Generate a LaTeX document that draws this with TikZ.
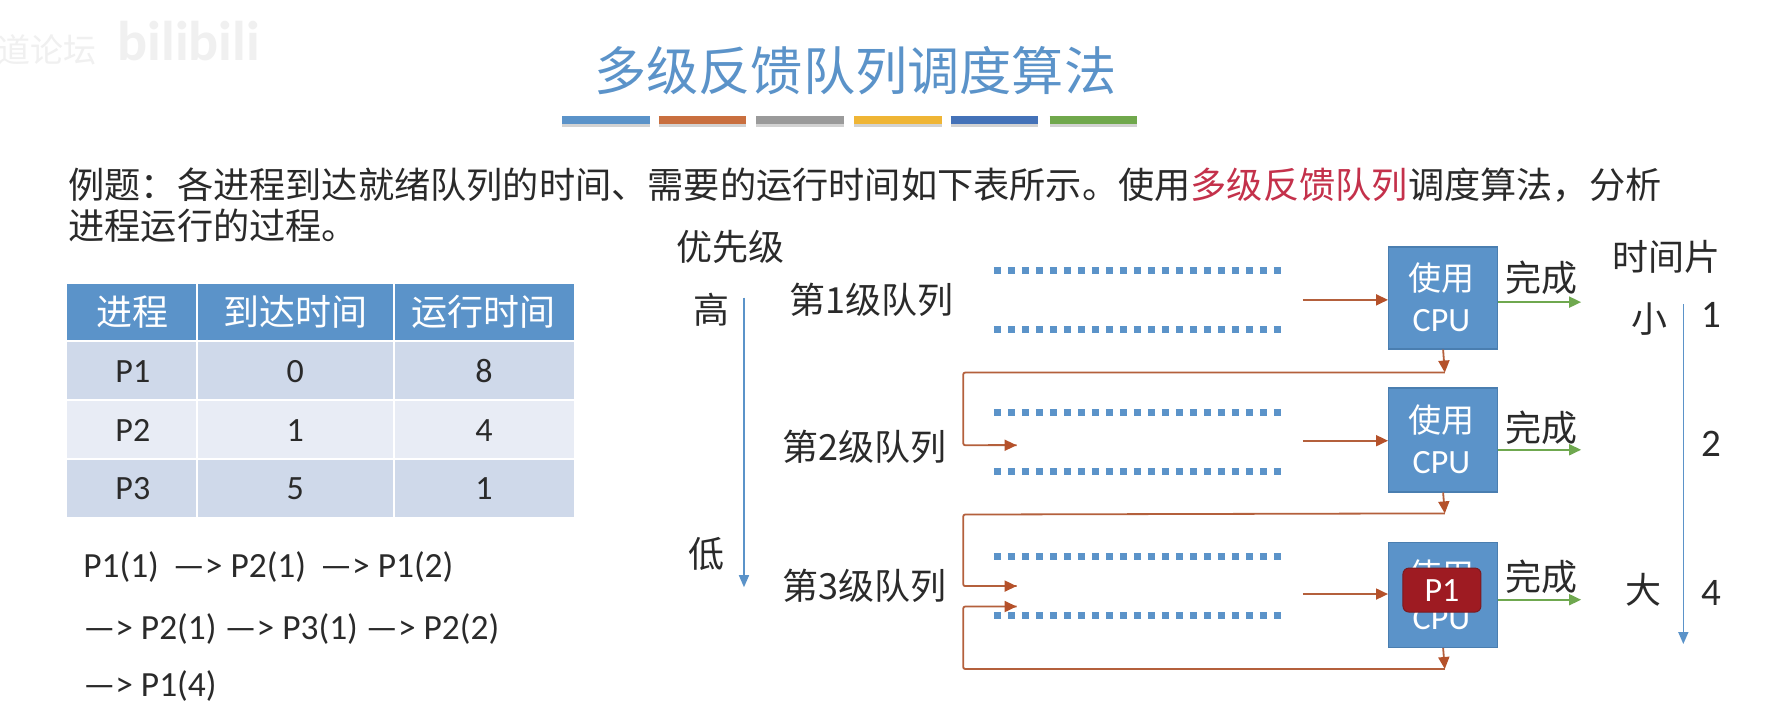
\documentclass[tikz,border=0pt]{standalone}
\usepackage{fontspec}
\setmainfont{Carlito}
\newfontfamily\cjk{Noto Sans CJK SC}
\usetikzlibrary{arrows.meta}
\definecolor{blueC}{HTML}{5B93C9}
\definecolor{blueD}{HTML}{4A7EB0}
\definecolor{brownC}{HTML}{B4603C}
\definecolor{brownT}{HTML}{B5512A}
\definecolor{greenC}{HTML}{6FA84F}
\definecolor{txt}{HTML}{2A2A2A}
\definecolor{redT}{HTML}{C4314B}
\definecolor{rowA}{HTML}{CFD9EA}
\definecolor{rowB}{HTML}{E8ECF5}
\definecolor{tit}{HTML}{5B93C9}
\definecolor{redP}{HTML}{9E1B22}
\definecolor{redE}{HTML}{7A1A20}
\newcommand{\fs}[1]{\fontsize{#1}{#1}\selectfont}
\tikzset{
 x=0.5679pt,y=-0.5679pt,
 lab/.style={inner sep=0pt,text=txt,font=\cjk\fs{18}},
 latin/.style={inner sep=0pt,text=txt,font=\fs{19.5}},
 seq/.style={inner sep=0pt,anchor=west,text=txt,font=\fs{17.7}},
 thead/.style={inner sep=0pt,text=white,font=\cjk\fs{18}},
 tcell/.style={inner sep=0pt,text=txt,font=\fs{17}},
 cpubox/.style={draw=blueD,line width=0.6pt,fill=blueC,inner sep=0pt,anchor=north west},
 cputext/.style={inner sep=0pt,text=white},
 queue/.style={blueC,line width=3.4pt,dash pattern=on 3.4pt off 3.6pt},
 inarrow/.style={brownC,line width=0.9pt,-{Triangle[length=6pt,width=5.5pt,color=brownT]}},
 outarrow/.style={greenC,line width=0.9pt,-{Triangle[length=6pt,width=5.5pt]}},
 axis/.style={blueC,line width=0.8pt,-{Triangle[length=6pt,width=5pt]}},
 feedback/.style={brownC,line width=0.9pt,rounded corners=1pt},
 titlebar/.style={line width=4pt},
 mark1/.style={inner sep=0pt,text=gray!12},
}
\begin{document}
\begin{tikzpicture}
\useasboundingbox (0,0) rectangle (1568,627);
\fill[white] (0,0) rectangle (1568,627);
% watermark
\node[mark1,font=\cjk\fs{16.5},anchor=east] (wm1) at (85,44) {道论坛};
\node[mark1,font=\bfseries\fs{28},anchor=west] (wm2) at (103,36) {bilibili};
% title
\node[inner sep=0pt,text=tit,font=\cjk\fs{26.1}] (title) at (753,62) {多级反馈队列调度算法};
\foreach \a/\b/\c in {495/572/5B93C9,580/657/C96F3F,666/743/9A9A9A,752/829/EFB535,837/914/4472B8,924/1001/70A84C}{
  \definecolor{barc}{HTML}{\c}
  \draw[titlebar,gray!35] (\a,108) -- (\b,108);
  \draw[titlebar,barc] (\a,106) -- (\b,106);
}
% problem text
\node[lab,anchor=west,font=\cjk\fs{18.1}] (p1) at (60,163) {例题：各进程到达就绪队列的时间、需要的运行时间如下表所示。使用\textcolor{redT}{多级反馈队列}调度算法，分析};
\node[lab,anchor=west,font=\cjk\fs{18.1}] (p2) at (60,199) {进程运行的过程。};
% table
\fill[blueC] (59,250) rectangle (505,299);
\fill[rowA] (59,301) rectangle (505,351);
\fill[rowB] (59,353) rectangle (505,403);
\fill[rowA] (59,405) rectangle (505,455);
\draw[white,line width=1.2pt] (173.5,250) -- (173.5,455) (347,250) -- (347,455);
\node[thead] (h1) at (117,275) {进程};
\node[thead] (h2) at (260,275) {到达时间};
\node[thead] (h3) at (426,275) {运行时间};
\node[tcell] (a1) at (117,327) {P1};
\node[tcell] (a2) at (260,327) {0};
\node[tcell] (a3) at (426,327) {8};
\node[tcell] (b1) at (117,379) {P2};
\node[tcell] (b2) at (260,379) {1};
\node[tcell] (b3) at (426,379) {4};
\node[tcell] (c1) at (117,430) {P3};
\node[tcell] (c2) at (260,430) {5};
\node[tcell] (c3) at (426,430) {1};
% sequences
\node[seq] (s1) at (73,499) {P1(1) \,—> P2(1) \,—> P1(2)};
\node[seq] (s2) at (73,554) {—> P2(1) —> P3(1) —> P2(2)};
\node[seq] (s3) at (73,604) {—> P1(4)};
% priority
\node[lab] (pri) at (643,217) {优先级};
\node[lab] (hi) at (626,273) {高};
\node[lab] (lo) at (622,488) {低};
\coordinate (priA) at (655,262);
\coordinate (priB) at (655,517);
\draw[axis] (priA) -- (priB);
% queue labels
\node[lab] (q1) at (767,264) {第1级队列};
\node[lab] (q2) at (761,393) {第2级队列};
\node[lab] (q3) at (761,516) {第3级队列};
% queue borders
\foreach \y in {238,290,363,415,490,542}{
  \coordinate (qa\y) at (875,\y);
  \coordinate (qb\y) at (1130,\y);
  \draw[queue] (qa\y) -- (qb\y);
}
% cpu boxes
\node[cpubox,minimum width=54.5pt,minimum height=51pt] (cpu1) at (1222,217) {};
\node[cpubox,minimum width=54.5pt,minimum height=52pt] (cpu2) at (1222,341) {};
\node[cpubox,minimum width=54.5pt,minimum height=52.5pt] (cpu3) at (1222,477) {};
\foreach \n/\a/\b in {1/245/282,2/370/407,3/506/545}{
  \node[cputext,font=\cjk\fs{16.5}] (use\n) at (1269,\a) {使用};
  \node[cputext,font=\fs{17}] (cpt\n) at (1269,\b) {CPU};
}
\node[draw=redE,line width=0.5pt,fill=redP,rounded corners=3pt,minimum width=39pt,minimum height=22pt,inner sep=0pt,text=white,font=\fs{17}] (pr) at (1269.5,519.5) {P1};
% in arrows
\coordinate (i1) at (1147,264);
\coordinate (i2) at (1147,388);
\coordinate (i3) at (1147,523);
\draw[inarrow] (i1) -- (i1-|cpu1.west);
\draw[inarrow] (i2) -- (i2-|cpu2.west);
\draw[inarrow] (i3) -- (i3-|cpu3.west);
% out arrows
\coordinate (o1) at (1392,266);
\coordinate (o2) at (1392,396);
\coordinate (o3) at (1392,528);
\draw[outarrow] (o1-|cpu1.east) -- (o1);
\draw[outarrow] (o2-|cpu2.east) -- (o2);
\draw[outarrow] (o3-|cpu3.east) -- (o3);
\node[lab] (d1) at (1357,245) {完成};
\node[lab] (d2) at (1357,377) {完成};
\node[lab] (d3) at (1357,508) {完成};
% feedback
\coordinate (f1) at (1272,328);
\coordinate (f2) at (1272,452);
\coordinate (f3) at (1272,589);
\draw[inarrow] (cpu1.south) -- (f1);
\draw[inarrow] (cpu2.south) -- (f2);
\draw[inarrow] (cpu3.south) -- (f3);
\coordinate (e2) at (895,392);
\coordinate (e3) at (895,516);
\coordinate (e4) at (895,534);
\coordinate (k1) at (848,328);
\coordinate (k2) at (848,453);
\coordinate (k3) at (848,589);
\draw[feedback] (f1) -- (k1) |- (e2);
\draw[feedback] (f2) -- (k2) |- (e3);
\draw[feedback] (f3) -- (k3) |- (e4);
\draw[inarrow] (870,392) -- (e2);
\draw[inarrow] (870,516) -- (e3);
\draw[inarrow] (870,534) -- (e4);
% time slices
\node[lab] (ts) at (1467,226) {时间片};
\node[lab] (sm) at (1452,281) {小};
\node[lab] (bg) at (1447,519) {大};
\coordinate (tA) at (1482,268);
\coordinate (tB) at (1482,567);
\draw[axis] (tA) -- (tB);
\node[latin] (t1) at (1507,277) {1};
\node[latin] (t2) at (1507,391) {2};
\node[latin] (t4) at (1507,522) {4};
\end{tikzpicture}
\end{document}
